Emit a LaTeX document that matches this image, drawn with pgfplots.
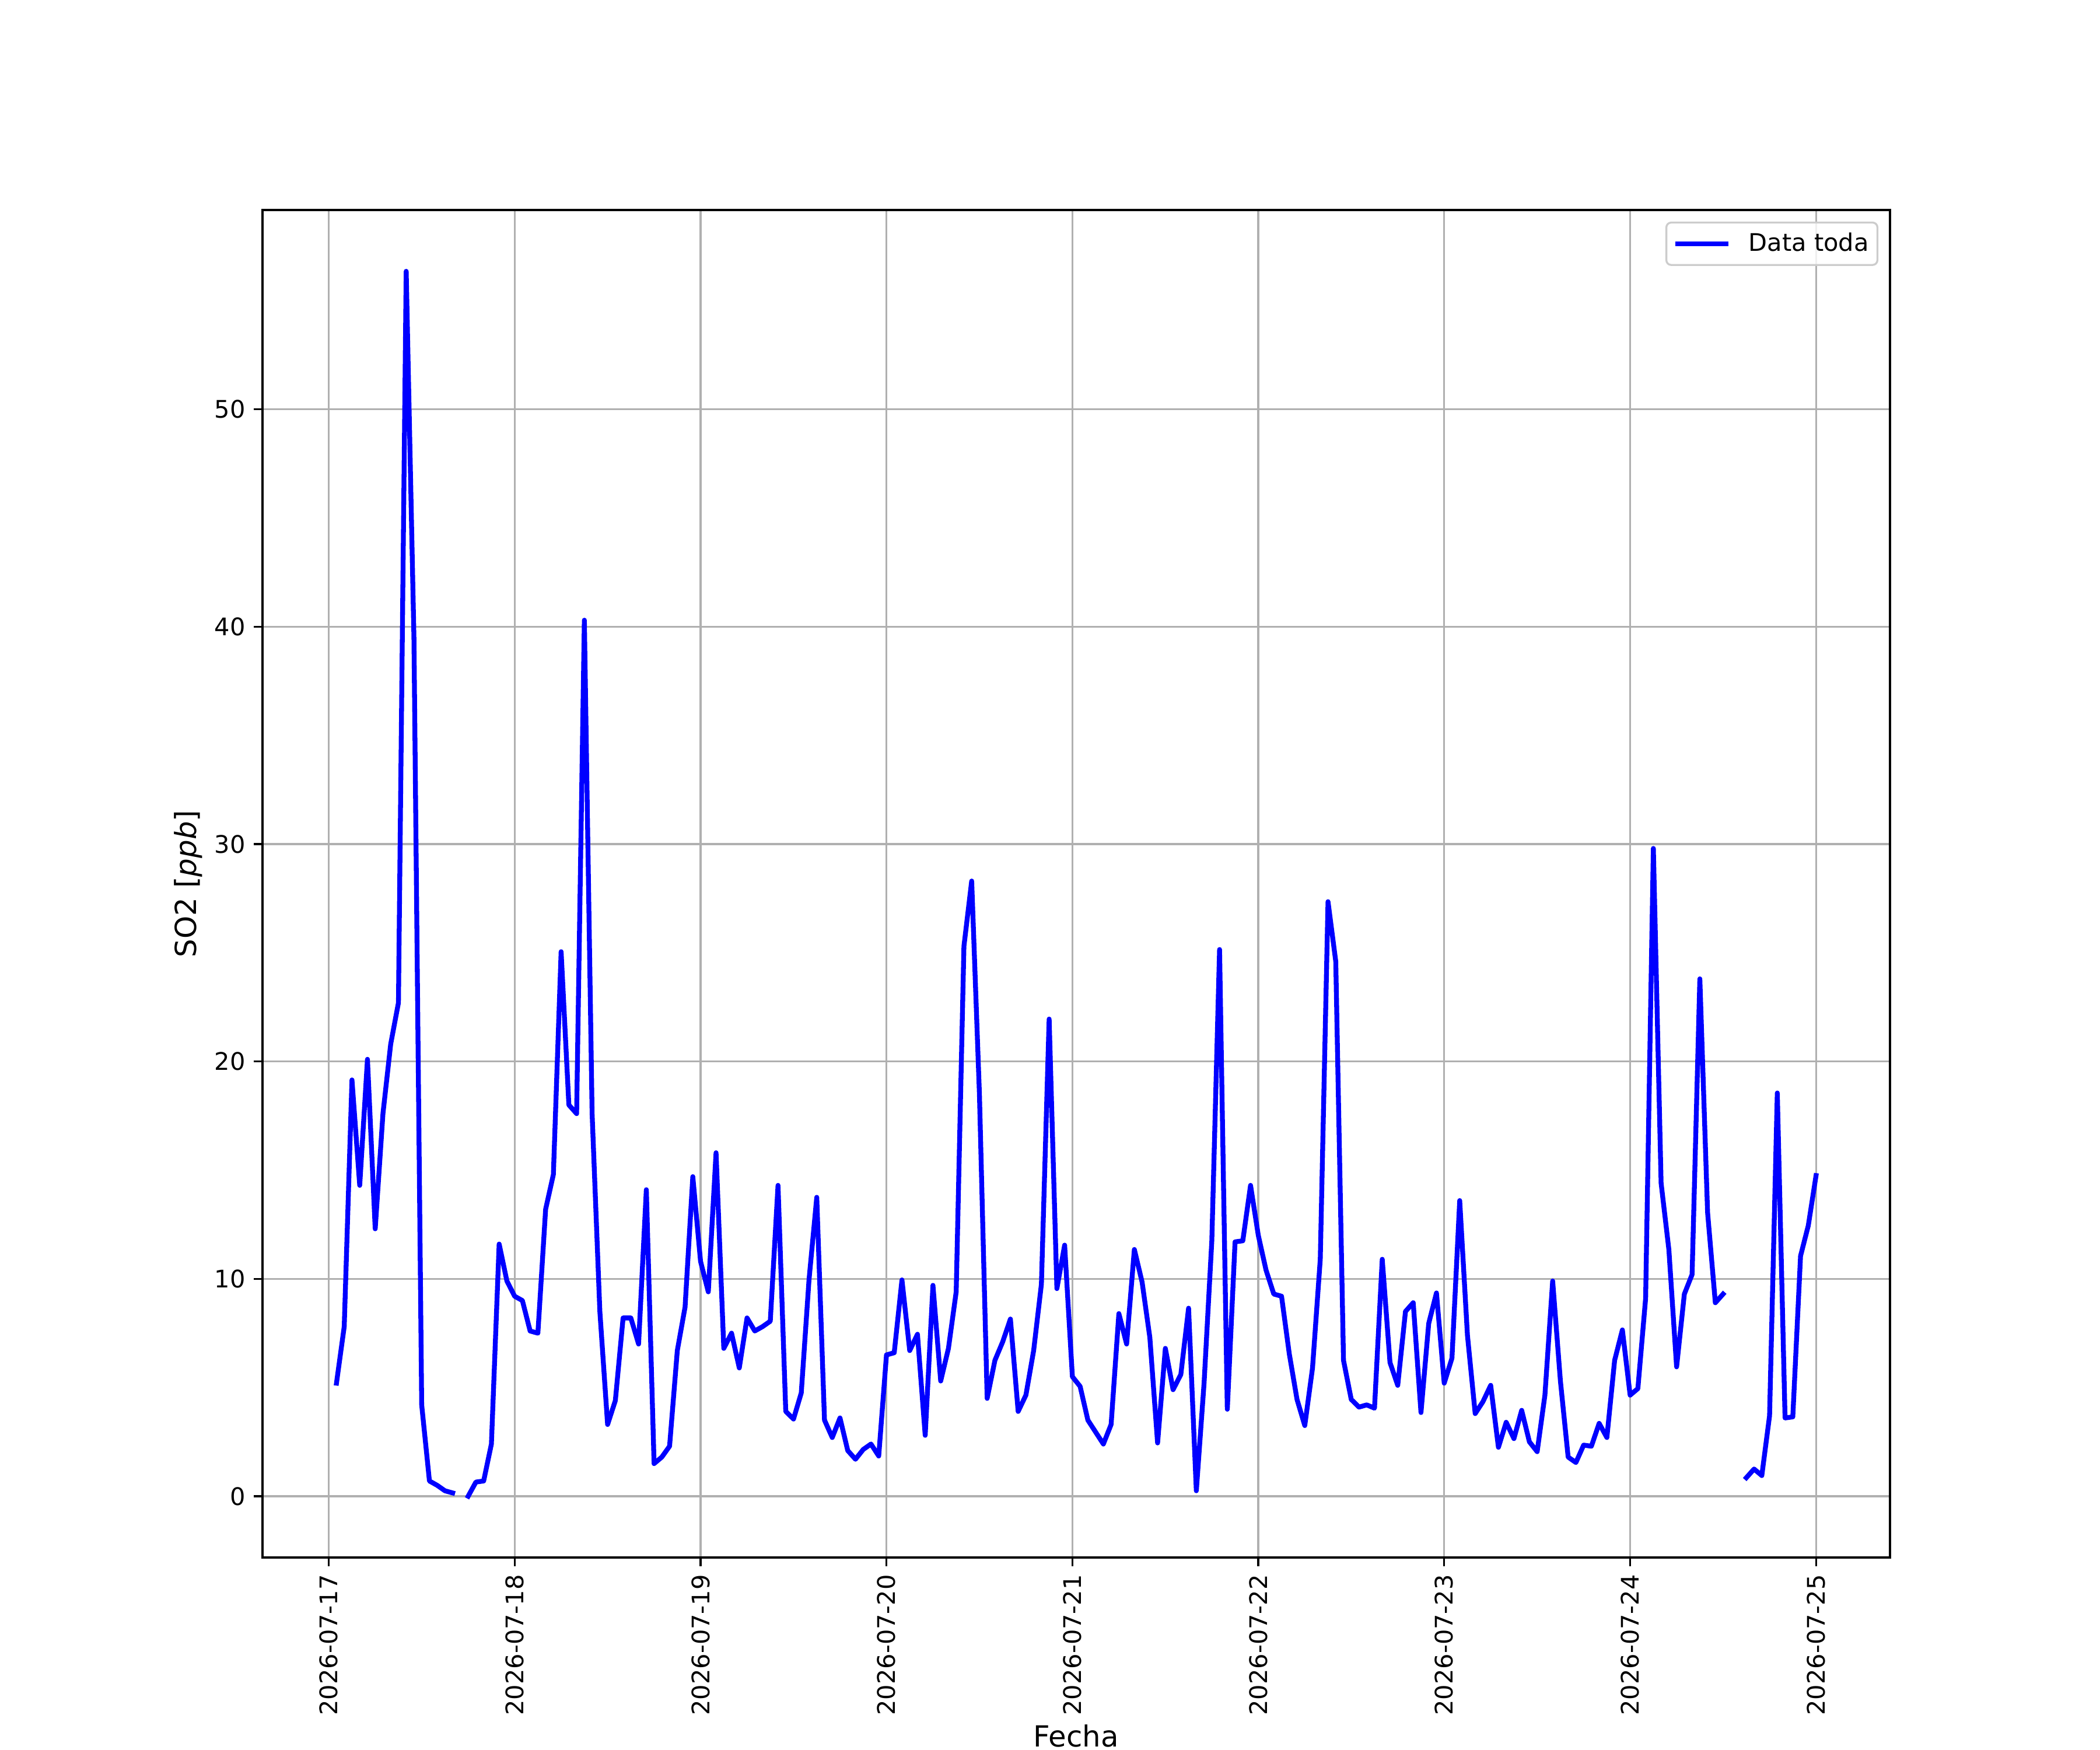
\documentclass[border=0pt]{standalone}
\usepackage{pgfplots}
\pgfplotsset{compat=1.18}
\usepackage{fontspec}
\setmainfont{DejaVu Sans}
\definecolor{gridgray}{HTML}{B0B0B0}
\definecolor{legframe}{HTML}{CCCCCC}
\begin{document}
\fontsize{10}{12}\selectfont
\begin{tikzpicture}
\useasboundingbox (-1.5in,-1.1in) rectangle (10.5in,8.9in);
\begin{axis}[
  at={(0,0)}, anchor=south west,
  scale only axis, width=9.3in, height=7.7in,
  xmin=-8.55, xmax=201.55, ymin=-2.82, ymax=59.17,
  unbounded coords=jump,
  axis line style={black, line width=0.8pt},
  tick align=outside, xtick pos=bottom, ytick pos=left,
  major tick length=3.5pt,
  tick style={black, line width=0.8pt},
  grid=major,
  grid style={gridgray, line width=0.8pt},
  xtick={0,24,48,72,96,120,144,168,192},
  xticklabels={2026-07-17,2026-07-18,2026-07-19,2026-07-20,2026-07-21,2026-07-22,2026-07-23,2026-07-24,2026-07-25},
  xticklabel style={rotate=90, anchor=east, font=\fontsize{10}{12}\selectfont},
  ytick={0,10,20,30,40,50},
  yticklabel style={font=\fontsize{10}{12}\selectfont},
  /pgf/number format/assume math mode=true,
  xlabel={Fecha},
  ylabel={SO2 [\textit{ppb}]},
  label style={font=\fontsize{12}{14}\selectfont},
  xlabel style={at={(axis description cs:0.5,0)}, anchor=base, yshift=-78.2pt},
  ylabel style={at={(axis description cs:0,0.5)}, anchor=center, yshift=30.7pt},
  legend style={at={(1,1)}, xshift=-4.8pt, yshift=-4.8pt, anchor=north east,
    draw=legframe, line width=0.8pt, rounded corners=2pt, fill=white, fill opacity=0.8, text opacity=1,
    font=\fontsize{10}{12}\selectfont, inner xsep=3.6pt, inner ysep=4.2pt,
    nodes={inner sep=0pt}},
  legend cell align=left,
  legend image code/.code={\path (0pt,0pt) (28.4pt,0pt); \draw[#1, line cap=rect] (0pt,0pt) -- (20pt,0pt);},
]
\addplot[blue, line width=2pt, line join=round, line cap=rect] coordinates {
(1,5.2) (2,7.8) (3,19.15) (4,14.3) (5,20.1) (6,12.3) (7,17.6) (8,20.8) (9,22.7) (10,56.35)
(11,39.5) (12,4.2) (13,0.7) (14,0.5) (15,0.25) (16,0.15) (17,nan) (18,0.0) (19,0.65) (20,0.7)
(21,2.4) (22,11.6) (23,9.9)
(24,9.2) (25,9.0) (26,7.6) (27,7.5) (28,13.2) (29,14.8) (30,25.05) (31,18.0) (32,17.6) (33,40.3)
(34,17.6) (35,8.5) (36,3.3) (37,4.4) (38,8.2) (39,8.2) (40,7.0) (41,14.1) (42,1.5) (43,1.8)
(44,2.3) (45,6.7) (46,8.7) (47,14.7)
(48,10.8) (49,9.4) (50,15.8) (51,6.8) (52,7.5) (53,5.9) (54,8.2) (55,7.6) (56,7.8) (57,8.05)
(58,14.3) (59,3.9) (60,3.55) (61,4.75) (62,9.95) (63,13.75) (64,3.5) (65,2.7) (66,3.6) (67,2.1)
(68,1.7) (69,2.15) (70,2.4) (71,1.85)
(72,6.5) (73,6.6) (74,9.95) (75,6.7) (76,7.45) (77,2.8) (78,9.7) (79,5.3) (80,6.8) (81,9.4)
(82,25.3) (83,28.3) (84,18.5) (85,4.5) (86,6.25) (87,7.1) (88,8.15) (89,3.9) (90,4.65) (91,6.7)
(92,9.75) (93,21.95) (94,9.55) (95,11.55)
(96,5.5) (97,5.05) (98,3.5) (99,2.95) (100,2.4) (101,3.3) (102,8.4) (103,7.0) (104,11.35) (105,9.85)
(106,7.3) (107,2.45) (108,6.8) (109,4.9) (110,5.6) (111,8.65) (112,0.25) (113,5.2) (114,11.75) (115,25.15)
(116,4.0) (117,11.7) (118,11.75) (119,14.3)
(120,12.0) (121,10.4) (122,9.3) (123,9.2) (124,6.55) (125,4.45) (126,3.25) (127,5.9) (128,10.9) (129,27.35)
(130,24.6) (131,6.25) (132,4.45) (133,4.1) (134,4.2) (135,4.05) (136,10.9) (137,6.15) (138,5.1) (139,8.5)
(140,8.9) (141,3.85) (142,7.95) (143,9.35)
(144,5.2) (145,6.35) (146,13.6) (147,7.4) (148,3.8) (149,4.35) (150,5.1) (151,2.25) (152,3.4) (153,2.65)
(154,3.95) (155,2.5) (156,2.05) (157,4.65) (158,9.9) (159,5.3) (160,1.8) (161,1.55) (162,2.35) (163,2.3)
(164,3.35) (165,2.7) (166,6.25) (167,7.65)
(168,4.65) (169,4.95) (170,9.1) (171,29.8) (172,14.4) (173,11.35) (174,5.95) (175,9.3) (176,10.2) (177,23.8)
(178,13.05) (179,8.9) (180,9.3) (181,nan) (182,nan) (183,0.85) (184,1.25) (185,0.95) (186,3.7) (187,18.55)
(188,3.6) (189,3.65) (190,11.05) (191,12.45) (192,14.75)
};
\addlegendentry{Data toda}
\end{axis}
\end{tikzpicture}
\end{document}
